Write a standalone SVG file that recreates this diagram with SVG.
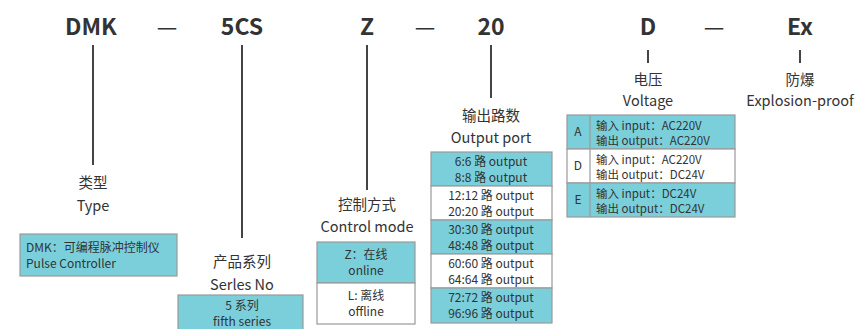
<svg xmlns="http://www.w3.org/2000/svg" width="863" height="329" viewBox="0 0 863 329">
<style>
text{font-family:"Noto Sans CJK SC","Noto Sans",sans-serif;fill:#333;text-anchor:middle}
.h{font-size:23px;font-weight:bold}
.d{font-size:23px;font-weight:normal}
.l{font-size:14.5px}
.t{font-size:12px}
.v{font-size:11.5px}
.s{text-anchor:start}
.c{fill:#7acfdb;stroke:#9a9a9a;stroke-width:1.2}
.w{fill:#fff;stroke:#9a9a9a;stroke-width:1.2}
.ln{stroke:#444;stroke-width:2;fill:none}
</style>
<rect width="863" height="329" fill="#fff"/>
<g id="header">
<text class="h" x="91" y="35">DMK</text>
<text class="d" x="167" y="35">—</text>
<text class="h" x="242" y="35">5CS</text>
<text class="h" x="367" y="35">Z</text>
<text class="d" x="425" y="35">—</text>
<text class="h" x="491" y="35">20</text>
<text class="h" x="648" y="35">D</text>
<text class="d" x="714" y="35">—</text>
<text class="h" x="800" y="35">Ex</text>
</g>
<g id="connectors">
<line class="ln" x1="93" y1="45" x2="93" y2="165"/>
<line class="ln" x1="242" y1="45" x2="242" y2="238"/>
<line class="ln" x1="367" y1="45" x2="367" y2="190"/>
<line class="ln" x1="491" y1="45" x2="491" y2="98"/>
<line class="ln" x1="648" y1="50" x2="648" y2="63"/>
<line class="ln" x1="800" y1="50" x2="800" y2="63"/>
</g>
<g id="type">
<text class="l" x="93" y="188">类型</text>
<text class="l" x="93" y="211">Type</text>
<rect class="c" x="20" y="234" width="157" height="42"/>
<text class="t s" x="26" y="252">DMK：可编程脉冲控制仪</text>
<text class="t s" x="26" y="268">Pulse Controller</text>
</g>
<g id="series">
<text class="l" x="242" y="267">产品系列</text>
<text class="l" x="242" y="290">Serles No</text>
<rect class="c" x="178" y="295" width="125" height="40"/>
<text class="t" x="242" y="310">5 系列</text>
<text class="t" x="242" y="326">fifth series</text>
</g>
<g id="control">
<text class="l" x="367" y="210">控制方式</text>
<text class="l" x="367" y="232">Control mode</text>
<rect class="c" x="317" y="242" width="98" height="41"/>
<rect class="w" x="317" y="283" width="98" height="41"/>
<text class="t" x="366" y="259">Z：在线</text>
<text class="t" x="366" y="275">online</text>
<text class="t" x="366" y="300">L: 离线</text>
<text class="t" x="366" y="316">offline</text>
</g>
<g id="output">
<text class="l" x="491" y="121">输出路数</text>
<text class="l" x="491" y="143">Output port</text>
<rect class="c" x="431" y="152" width="121" height="34"/>
<rect class="w" x="431" y="186" width="121" height="34"/>
<rect class="c" x="431" y="220" width="121" height="34"/>
<rect class="w" x="431" y="254" width="121" height="34"/>
<rect class="c" x="431" y="288" width="121" height="35"/>
<text class="t" x="491" y="166">6:6 路 output</text>
<text class="t" x="491" y="182">8:8 路 output</text>
<text class="t" x="491" y="200">12:12 路 output</text>
<text class="t" x="491" y="216">20:20 路 output</text>
<text class="t" x="491" y="234">30:30 路 output</text>
<text class="t" x="491" y="250">48:48 路 output</text>
<text class="t" x="491" y="268">60:60 路 output</text>
<text class="t" x="491" y="284">64:64 路 output</text>
<text class="t" x="491" y="302">72:72 路 output</text>
<text class="t" x="491" y="318">96:96 路 output</text>
</g>
<g id="voltage">
<text class="l" x="648" y="85">电压</text>
<text class="l" x="648" y="106">Voltage</text>
<rect class="c" x="567" y="115" width="168" height="34"/>
<rect class="w" x="567" y="149" width="168" height="34"/>
<rect class="c" x="567" y="183" width="168" height="34"/>
<line x1="590" y1="115" x2="590" y2="217" stroke="#9a9a9a" stroke-width="1.2"/>
<text class="t" x="578" y="136">A</text>
<text class="t" x="578" y="170">D</text>
<text class="t" x="578" y="204">E</text>
<text class="v s" x="596" y="130">输入 input：AC220V</text>
<text class="v s" x="596" y="145">输出 output：AC220V</text>
<text class="v s" x="596" y="164">输入 input：AC220V</text>
<text class="v s" x="596" y="179">输出 output：DC24V</text>
<text class="v s" x="596" y="198">输入 input：DC24V</text>
<text class="v s" x="596" y="213">输出 output：DC24V</text>
</g>
<g id="explosion">
<text class="l" x="800" y="85">防爆</text>
<text class="l" x="800" y="106">Explosion-proof</text>
</g>
</svg>
